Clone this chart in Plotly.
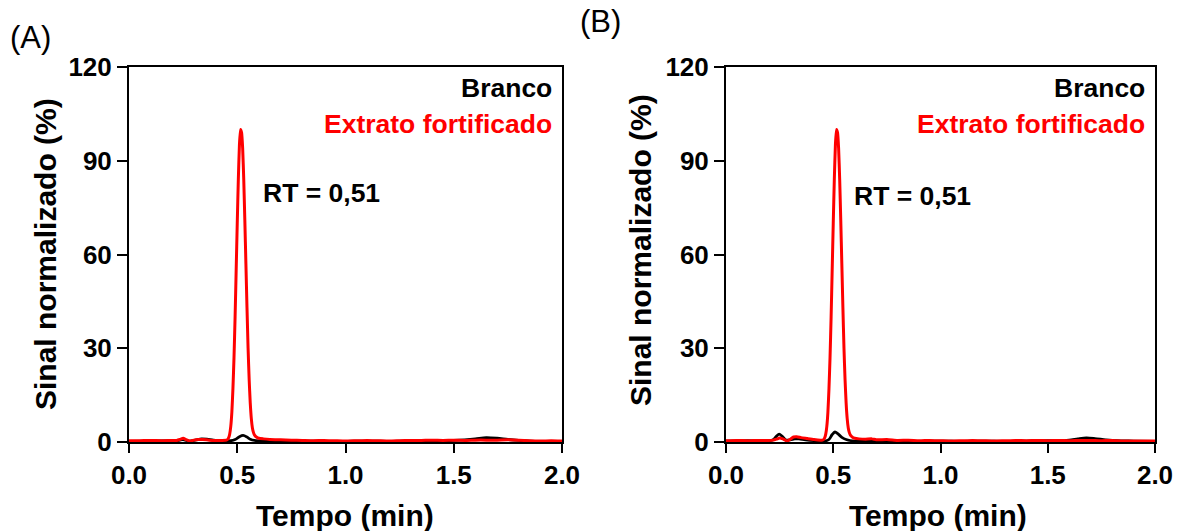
import plotly.graph_objects as go

FONT = "Arial, Liberation Sans, sans-serif"

# ---- Panel A: time (min) and normalized signal (%) ----
a_red_t = [0.00, 0.05, 0.10, 0.15, 0.20, 0.22, 0.235, 0.25, 0.265, 0.28, 0.30, 0.32, 0.34, 0.37, 0.40, 0.43,
           0.450, 0.455, 0.460, 0.465, 0.470, 0.475, 0.480, 0.485, 0.490, 0.495, 0.500,
           0.505, 0.510, 0.515, 0.520, 0.525, 0.530, 0.535, 0.540, 0.545, 0.550, 0.555,
           0.560, 0.565, 0.570, 0.575, 0.580, 0.590, 0.600, 0.620, 0.650, 0.700,
           0.75, 0.80, 0.85, 0.90, 0.95, 1.00, 1.05, 1.10, 1.15, 1.20, 1.25, 1.30, 1.35,
           1.40, 1.45, 1.50, 1.55, 1.60, 1.65, 1.70, 1.75, 1.80, 1.85, 1.90, 1.95, 2.00]
a_red_s = [0.4, 0.4, 0.5, 0.4, 0.5, 0.5, 0.8, 1.2, 0.7, 0.3, 0.6, 0.8, 0.8, 0.6, 0.5, 0.5,
           0.6, 0.8, 1.3, 2.5, 5.0, 9.5, 17, 27, 40, 55, 70,
           84, 95, 100, 99, 94, 84, 71, 57, 43, 30, 20,
           12.5, 7.5, 4.5, 3.0, 2.2, 1.5, 1.2, 1.0, 0.8, 0.7,
           0.6, 0.5, 0.4, 0.5, 0.4, 0.3, 0.4, 0.5, 0.4, 0.3, 0.4, 0.5, 0.5,
           0.6, 0.5, 0.6, 0.5, 0.6, 0.6, 0.6, 0.7, 0.6, 0.4, 0.3, 0.4, 0.3]

a_blk_t = [0.00, 0.10, 0.20, 0.22, 0.235, 0.25, 0.265, 0.28, 0.31, 0.335, 0.36, 0.39, 0.43, 0.47, 0.49,
           0.51, 0.527, 0.545, 0.56, 0.58, 0.62, 0.70, 0.80, 0.90, 1.00, 1.10, 1.20, 1.30, 1.40, 1.50,
           1.55, 1.60, 1.65, 1.70, 1.75, 1.80, 1.85, 1.90, 2.00]
a_blk_s = [0.2, 0.3, 0.4, 0.4, 0.6, 0.8, 0.5, 0.3, 0.7, 1.0, 0.9, 0.6, 0.4, 0.4, 0.8,
           1.7, 2.1, 1.6, 0.9, 0.5, 0.3, 0.2, 0.3, 0.2, 0.2, 0.3, 0.2, 0.3, 0.3, 0.5,
           0.7, 1.0, 1.4, 1.2, 0.8, 0.5, 0.3, 0.2, 0.2]

# ---- Panel B ----
b_red_t = [0.00, 0.05, 0.10, 0.15, 0.20, 0.22, 0.235, 0.25, 0.265, 0.285, 0.30, 0.315, 0.33, 0.35, 0.38, 0.41, 0.44,
           0.450, 0.455, 0.460, 0.465, 0.470, 0.475, 0.480, 0.485, 0.490, 0.495, 0.500,
           0.505, 0.510, 0.515, 0.520, 0.525, 0.530, 0.535, 0.540, 0.545, 0.550, 0.555,
           0.560, 0.565, 0.570, 0.575, 0.580, 0.590, 0.600, 0.620, 0.650, 0.680, 0.700,
           0.75, 0.80, 0.85, 0.90, 0.95, 1.00, 1.05, 1.10, 1.15, 1.20, 1.25, 1.30, 1.35,
           1.40, 1.45, 1.50, 1.55, 1.60, 1.65, 1.70, 1.75, 1.80, 1.85, 1.90, 1.95, 2.00]
b_red_s = [0.4, 0.5, 0.4, 0.5, 0.5, 0.6, 0.9, 1.3, 1.0, 0.3, 0.9, 1.6, 1.7, 1.4, 1.1, 0.8, 0.6,
           0.6, 0.8, 1.3, 2.5, 5.0, 9.5, 17, 27, 40, 55, 70,
           84, 95, 100, 99, 94, 84, 71, 57, 43, 30, 20,
           12.5, 7.5, 4.5, 3.0, 2.2, 1.5, 1.2, 1.0, 0.9, 1.0, 0.7,
           0.8, 0.5, 0.6, 0.4, 0.5, 0.4, 0.3, 0.4, 0.5, 0.4, 0.3, 0.4, 0.5,
           0.4, 0.5, 0.4, 0.5, 0.4, 0.5, 0.5, 0.4, 0.5, 0.3, 0.3, 0.3, 0.3]

b_blk_t = [0.00, 0.10, 0.20, 0.22, 0.235, 0.248, 0.262, 0.28, 0.30, 0.32, 0.34, 0.37, 0.42, 0.46, 0.48,
           0.495, 0.508, 0.522, 0.54, 0.56, 0.60, 0.70, 0.80, 0.90, 1.00, 1.10, 1.20, 1.30, 1.40, 1.50,
           1.55, 1.60, 1.64, 1.68, 1.72, 1.77, 1.82, 1.90, 2.00]
b_blk_s = [0.3, 0.4, 0.4, 0.7, 1.8, 2.5, 1.8, 0.6, 0.7, 1.0, 1.0, 0.7, 0.4, 0.3, 0.8,
           2.4, 3.2, 2.6, 1.5, 0.8, 0.3, 0.3, 0.2, 0.2, 0.3, 0.2, 0.3, 0.2, 0.3, 0.4,
           0.5, 0.6, 1.0, 1.3, 1.1, 0.7, 0.4, 0.3, 0.2]

x_ticks = [0.0, 0.5, 1.0, 1.5, 2.0]
x_tick_text = ["0.0", "0.5", "1.0", "1.5", "2.0"]
y_ticks = [0, 30, 60, 90, 120]

rt_label = "RT = 0,51"
series_names = ["Branco", "Extrato fortificado"]
colors = {"Branco": "#000000", "Extrato fortificado": "#ff0000"}

fig = go.Figure()

panels = [
    ("x", "y", a_blk_t, a_blk_s, a_red_t, a_red_s),
    ("x2", "y2", b_blk_t, b_blk_s, b_red_t, b_red_s),
]
for xa, ya, bt, bs, rt, rs in panels:
    fig.add_trace(go.Scatter(x=bt, y=bs, mode="lines", xaxis=xa, yaxis=ya,
                             line=dict(color=colors["Branco"], width=2.8, shape="spline", smoothing=0.8),
                             showlegend=False))
    fig.add_trace(go.Scatter(x=rt, y=rs, mode="lines", xaxis=xa, yaxis=ya,
                             line=dict(color=colors["Extrato fortificado"], width=3, shape="spline", smoothing=0.5),
                             showlegend=False))

W, H = 1182, 531
y_dom = [(H - 442) / H, (H - 67) / H]
xdomA = [129 / W, 562 / W]
xdomB = [726 / W, 1155 / W]

axis_common = dict(
    showline=True, linecolor="black", linewidth=2, mirror=True,
    ticks="outside", tickcolor="black", tickwidth=2,
    showgrid=False, zeroline=False, automargin=False,
    tickfont=dict(family=FONT, size=26, color="black", weight="bold"),
)

fig.update_layout(
    template="none",
    width=W, height=H,
    margin=dict(l=0, r=0, t=0, b=0, pad=0),
    paper_bgcolor="white", plot_bgcolor="white",
    xaxis=dict(domain=xdomA, range=[0, 2], tickvals=x_ticks, ticktext=x_tick_text,
               ticklen=9, anchor="y", **axis_common),
    yaxis=dict(domain=y_dom, range=[0, 120], tickvals=y_ticks, ticklen=10,
               anchor="x", **axis_common),
    xaxis2=dict(domain=xdomB, range=[0, 2], tickvals=x_ticks, ticktext=x_tick_text,
                ticklen=9, anchor="y2", **axis_common),
    yaxis2=dict(domain=y_dom, range=[0, 120], tickvals=y_ticks, ticklen=10,
                anchor="x2", **axis_common),
)

ann = []
bold = dict(family=FONT, size=26.5, weight="bold")
for xr, yr, rtx, rty, name_x, x_title_cx, y_title_cx, y_title_cy, letter, lx, ly in [
    ("x", "y", 0.610, 79.7, 1.963, 345, 45, 254, "(A)", 8, 38),
    ("x2", "y2", 0.587, 78.7, 1.963, 938, 640, 250, "(B)", 578, 22),
]:
    ann.append(dict(x=name_x, y=113.3, xref=xr, yref=yr, text=series_names[0],
                    showarrow=False, xanchor="right", yanchor="middle",
                    font=dict(color=colors["Branco"], **bold)))
    ann.append(dict(x=name_x, y=101.8, xref=xr, yref=yr, text=series_names[1],
                    showarrow=False, xanchor="right", yanchor="middle",
                    font=dict(color=colors["Extrato fortificado"], **bold)))
    ann.append(dict(x=rtx, y=rty, xref=xr, yref=yr, text=rt_label,
                    showarrow=False, xanchor="left", yanchor="middle",
                    font=dict(color="black", **bold)))
    ann.append(dict(x=x_title_cx / W, y=(H - 515) / H, xref="paper", yref="paper",
                    text="Tempo (min)", showarrow=False, xanchor="center", yanchor="middle",
                    font=dict(family=FONT, size=30, color="black", weight="bold")))
    ann.append(dict(x=y_title_cx / W, y=(H - y_title_cy) / H, xref="paper", yref="paper",
                    text="Sinal normalizado (%)", textangle=-90, showarrow=False,
                    xanchor="center", yanchor="middle",
                    font=dict(family=FONT, size=30, color="black", weight="bold")))
    ann.append(dict(x=lx / W, y=(H - ly) / H, xref="paper", yref="paper",
                    text=letter, showarrow=False, xanchor="left", yanchor="middle",
                    font=dict(family=FONT, size=31, color="black")))

fig.update_layout(annotations=ann)
fig.write_html("out.html")
